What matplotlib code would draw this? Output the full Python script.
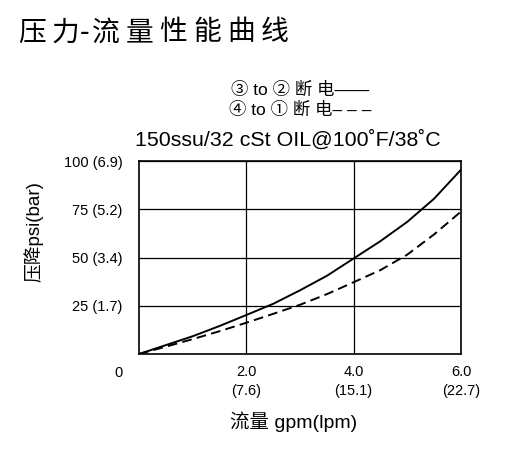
import matplotlib
matplotlib.use("Agg")
import matplotlib.pyplot as plt

plt.rcParams['font.family'] = ['Liberation Sans', 'Noto Sans CJK SC', 'DejaVu Sans']

# flow (gpm) vs pressure drop (psi)
flow = [0, 0.5, 1, 1.5, 2, 2.5, 3, 3.5, 4, 4.5, 5, 5.5, 6]
psi_3to2 = [0, 4.6, 9.2, 14.5, 20.2, 26, 33, 40.5, 49.5, 58.5, 68.5, 80.5, 95.5]
psi_4to1 = [0, 3.8, 7.7, 11.8, 16.2, 20.8, 25.5, 31, 37.2, 43.5, 51.5, 62, 73.8]

x_ticks = [2, 4, 6]
x_labels = ["2.0\n(7.6)", "4.0\n(15.1)", "6.0\n(22.7)"]
y_ticks = [25, 50, 75, 100]
y_labels = ["25 (1.7)", "50 (3.4)", "75 (5.2)", "100 (6.9)"]

title = "压力-流量性能曲线"
title_px = [31.5, 65.3, 85, 105.5, 139.3, 173.1, 206.9, 240.7, 274.5]  # char centres

W, H = 510, 449
fig = plt.figure(figsize=(W / 100, H / 100), dpi=100)
ax = fig.add_axes([139 / W, 1 - 354 / H, 322 / W, 193 / H])

ax.plot(flow, psi_3to2, color='black', lw=1.4)
ax.plot(flow, psi_4to1, color='black', lw=1.4, dashes=(5, 2.7))

ax.set_xlim(0, 6)
ax.set_ylim(0, 100)
ax.set_xticks(x_ticks)
ax.set_xticklabels(x_labels, fontsize=10.5, linespacing=1.45)
ax.set_yticks(y_ticks)
ax.set_yticklabels(y_labels, fontsize=10.5)
ax.tick_params(length=0)
ax.tick_params(axis='y', pad=12)
ax.tick_params(axis='x', pad=8)
ax.grid(True, color='black', lw=0.9)
for s in ax.spines.values():
    s.set_linewidth(1.2)

ax.annotate("0", xy=(0, 0), xytext=(-14.4, -13.9), textcoords='offset points',
            ha='center', va='center', fontsize=10.5)

ax.set_ylabel("压降psi(bar)", fontsize=13.5)
ax.yaxis.label.set_va('center')
ax.yaxis.set_label_coords(-0.329, 0.632)
ax.set_xlabel("流量 gpm(lpm)", fontsize=14)
ax.xaxis.label.set_va('center')
ax.xaxis.set_label_coords(0.481, -0.352)

for ch, px in zip(title, title_px):
    fig.text(px / W, 1 - 32.5 / H, ch, fontsize=20, ha='center', va='center',
             family=['Noto Sans CJK SC'], weight='medium')

fig.text(300 / W, 1 - 90 / H, "③ to ② 断 电——", fontsize=12.5, ha='center', va='center')
fig.text(300 / W, 1 - 110 / H, "④ to ① 断 电– – –", fontsize=12.5, ha='center', va='center')
fig.text(287.5 / W, 1 - 140 / H, "150ssu/32 cSt OIL@100˚F/38˚C", fontsize=15.4,
         ha='center', va='center')

fig.savefig("out.png", dpi=100)
